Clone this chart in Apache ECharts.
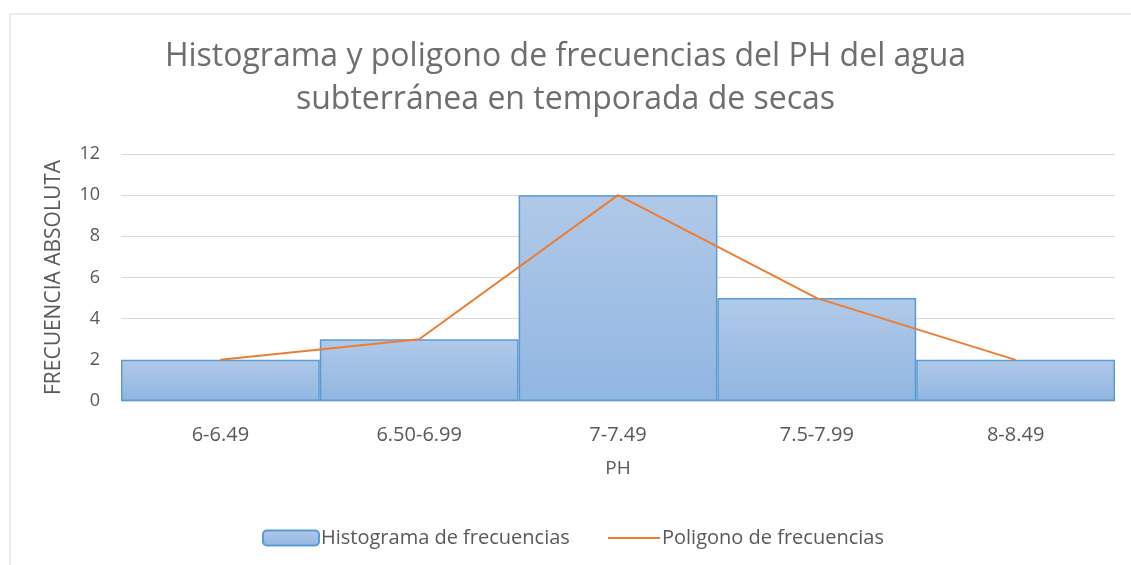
<!DOCTYPE html>
<html>
<head>
<meta charset="utf-8">
<script src="https://cdn.jsdelivr.net/npm/echarts@6/dist/echarts.min.js"></script>
<style>
  html, body { margin: 0; padding: 0; background: #fff; }
  #chart { width: 1131px; height: 565px; }
</style>
</head>
<body>
<div id="chart"></div>
<script>
// intervalos de PH y frecuencias
var categorias = ['6-6.49', '6.50-6.99', '7-7.49', '7.5-7.99', '8-8.49'];
var histograma = [2, 3, 10, 5, 2];
var poligono = [2, 3, 10, 5, 2];
var serieNombres = ['Histograma de frecuencias', 'Poligono de frecuencias'];

var fuente = 'Open Sans';
var gris = '#595959';

var chart = echarts.init(document.getElementById('chart'));
var option = {
    backgroundColor: '#fff',
    animation: false,
    title: {
        text: 'Histograma y poligono de frecuencias del PH del agua\nsubterránea en temporada de secas',
        left: 'center',
        top: 30,
        textStyle: {
            color: '#6e6e6e',
            fontFamily: fuente,
            fontSize: 32,
            fontWeight: 'normal',
            lineHeight: 43
        }
    },
    // marco del gráfico
    graphic: [{
        type: 'rect',
        shape: { x: 10, y: 14, width: 1130, height: 560 },
        style: { fill: 'none', stroke: '#d9d9d9', lineWidth: 1 },
        silent: true
    }],
    legend: [{
        data: [serieNombres[0]],
        left: 262,
        top: 528,
        padding: 0,
        itemWidth: 56,
        itemHeight: 15,
        textStyle: { color: gris, fontFamily: fuente, fontSize: 20, padding: [0, 0, 0, -3] }
    }, {
        // la leyenda de la línea es solo un trazo naranja
        data: [{ name: serieNombres[1], icon: 'rect' }],
        left: 608,
        top: 528,
        padding: 0,
        itemWidth: 52,
        itemHeight: 2,
        textStyle: { color: gris, fontFamily: fuente, fontSize: 20, padding: [0, 0, 0, -3] }
    }],
    grid: {
        left: 121,
        right: 16,
        top: 154,
        bottom: 164,
        containLabel: false
    },
    xAxis: {
        type: 'category',
        data: categorias,
        name: 'PH',
        nameLocation: 'middle',
        nameGap: 58,
        nameTextStyle: { color: gris, fontFamily: fuente, fontSize: 19 },
        axisLine: { show: true, lineStyle: { color: '#d9d9d9' } },
        axisTick: { show: false },
        axisLabel: { color: gris, fontFamily: fuente, fontSize: 20, margin: 24 }
    },
    yAxis: {
        type: 'value',
        min: 0,
        max: 12,
        interval: 2,
        name: 'FRECUENCIA ABSOLUTA',
        nameLocation: 'middle',
        nameGap: 56,
        nameTextStyle: { color: gris, fontFamily: fuente, fontSize: 21 },
        axisLine: { show: false },
        axisTick: { show: false },
        axisLabel: { color: gris, fontFamily: fuente, fontSize: 18, margin: 21 },
        splitLine: { lineStyle: { color: '#d9d9d9', width: 1 } }
    },
    series: [{
        name: serieNombres[0],
        type: 'bar',
        data: histograma,
        barCategoryGap: '0%',
        itemStyle: {
            color: new echarts.graphic.LinearGradient(0, 0, 0, 1, [
                { offset: 0, color: '#b0c9e8' },
                { offset: 1, color: '#91b6e2' }
            ]),
            borderColor: '#5b9bd5',
            borderWidth: 1.5
        }
    }, {
        name: serieNombres[1],
        type: 'line',
        data: poligono,
        symbol: 'none',
        lineStyle: { color: '#ed7d31', width: 2 },
        itemStyle: { color: '#ed7d31' }
    }]
};
chart.setOption(option);
</script>
</body>
</html>
